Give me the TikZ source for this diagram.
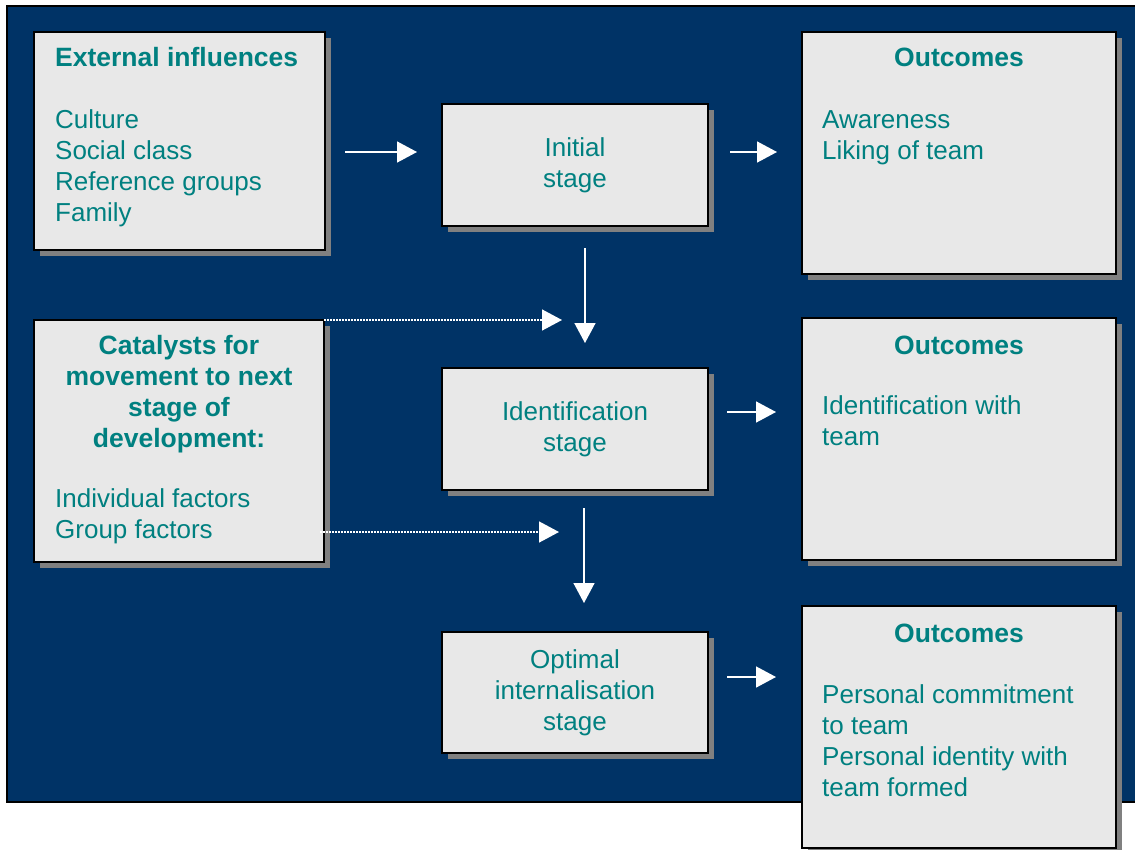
\documentclass[tikz,border=0pt]{standalone}
\usepackage{fontspec}
\setmainfont{Liberation Sans}
\usetikzlibrary{arrows.meta,shadows}
\definecolor{bgnavy}{RGB}{0,51,102}
\definecolor{boxgrey}{RGB}{232,232,232}
\definecolor{shadegrey}{RGB}{128,128,128}
\definecolor{tealtext}{RGB}{0,128,128}
\tikzstyle{stagebox}=[draw=black,line width=1.5pt,fill=boxgrey,outer sep=0pt,inner sep=0pt,anchor=north west,drop shadow={shadow xshift=6pt,shadow yshift=-6pt,fill=shadegrey,opacity=1}]
\tikzstyle{boxtext}=[text=tealtext,inner sep=0pt,font=\fontsize{26}{31}\selectfont]
\tikzstyle{boxtitle}=[boxtext,font=\fontsize{26.5}{31}\selectfont\bfseries]
\tikzstyle{flow}=[draw=white,line width=1.5pt,-{Triangle[length=20pt,width=21pt]}]
\tikzstyle{catalyst}=[flow,dash pattern=on 1.5pt off 1.5pt]

\begin{document}
\begin{tikzpicture}[x=1pt,y=-1pt]
        \useasboundingbox (0,0) rectangle (1135,849);
        \draw[fill=bgnavy,line width=1.5pt] (7,6) rectangle (1150,802);

        % left column
        \node[stagebox,minimum width=291pt,minimum height=218pt] (ext) at (34,32) {};
        \node[stagebox,minimum width=290pt,minimum height=242pt] (cat) at (34,320) {};
        % stages
        \node[stagebox,boxtext,align=center,minimum width=266pt,minimum height=122pt] (init) at (442,104) {Initial\\stage};
        \node[stagebox,boxtext,align=center,minimum width=266pt,minimum height=122pt] (ident) at (442,368) {Identification\\stage};
        \node[stagebox,boxtext,align=center,minimum width=266pt,minimum height=121pt] (opt) at (442,632) {Optimal\\internalisation\\stage};
        % outcomes
        \node[stagebox,minimum width=314pt,minimum height=242pt] (outa) at (802,32) {};
        \node[stagebox,minimum width=314pt,minimum height=242pt] (outb) at (802,318) {};
        \node[stagebox,minimum width=314pt,minimum height=242pt] (outc) at (802,606) {};

        \node[boxtext,align=left,anchor=north west] (ext_text) at ([shift={(21,15)}]ext.north west)
            {\textbf{\fontsize{26.5}{31}\selectfont External influences}\\[31pt]Culture\\Social class\\Reference groups\\Family};
        \node[boxtitle,align=center,anchor=north] (cat_title) at ([shift={(0,15)}]cat.north)
            {Catalysts for\\movement to next\\stage of\\development:};
        \node[boxtext,align=left,anchor=north west] (cat_text) at ([shift={(21,168)}]cat.north west)
            {Individual factors\\Group factors};

        \node[boxtitle,anchor=north] (outa_title) at ([shift={(0,16)}]outa.north) {Outcomes};
        \node[boxtext,align=left,anchor=north west] (outa_text) at ([shift={(20,78)}]outa.north west) {Awareness\\Liking of team};
        \node[boxtitle,anchor=north] (outb_title) at ([shift={(0,18)}]outb.north) {Outcomes};
        \node[boxtext,align=left,anchor=north west] (outb_text) at ([shift={(20,77)}]outb.north west) {Identification with\\team};
        \node[boxtitle,anchor=north] (outc_title) at ([shift={(0,18)}]outc.north) {Outcomes};
        \node[boxtext,align=left,anchor=north west] (outc_text) at ([shift={(20,78)}]outc.north west)
            {Personal commitment\\to team\\Personal identity with\\team formed};

        % arrows
        \draw[flow] ([shift={(20,11)}]ext.east) -- ([shift={(-25,-13)}]init.west);
        \draw[flow] ([shift={(22,-13)}]init.east) -- ([shift={(-25,-1)}]outa.west);
        \draw[flow] ([shift={(10,22)}]init.south) -- ([shift={(10,-25)}]ident.north);
        \draw[flow] ([shift={(19,-17)}]ident.east) -- ([shift={(-26,-27)}]outb.west);
        \draw[flow] ([shift={(9,18)}]ident.south) -- ([shift={(9,-29)}]opt.north);
        \draw[flow] ([shift={(19,-15.5)}]opt.east) -- ([shift={(-26,-50)}]outc.west);
        \draw[catalyst] (cat.north east) -- ([shift={(120,-48)}]ident.north west);
        \draw[catalyst] ([shift={(-4,-30)}]cat.south east) -- ([shift={(117,42)}]ident.south west);
\end{tikzpicture}
\end{document}
